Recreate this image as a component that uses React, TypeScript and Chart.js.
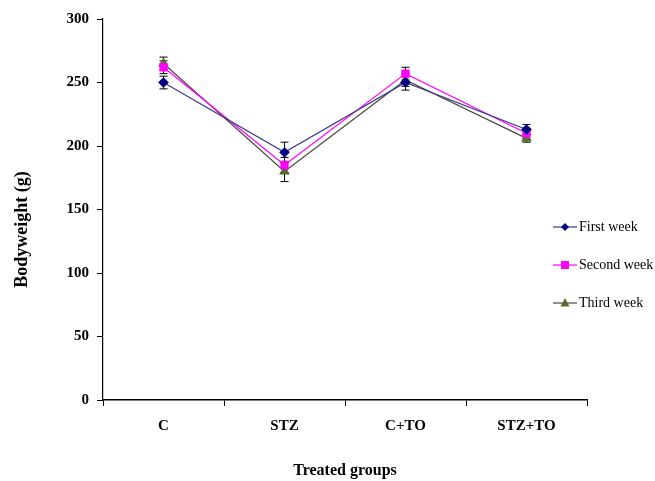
import React, { useEffect, useRef } from "react";
import { Chart, registerables } from "chart.js";

Chart.register(...registerables);

const categories = ["C", "STZ", "C+TO", "STZ+TO"];
const firstWeek = [250, 195, 250, 213];
const secondWeek = [262, 185, 257, 210];
const thirdWeek = [265, 180, 252, 206];
const firstErr = [5, 8, 6, 4];
const secondErr = [5, 6, 5, 4];
const thirdErr = [5, 8, 5, 3];
const yTicks = [0, 50, 100, 150, 200, 250, 300];
const yTitle = "Bodyweight (g)";
const xTitle = "Treated groups";

const FONT = "'Liberation Serif', 'Times New Roman', serif";

const errorBarPlugin = {
  id: "errorBars",
  beforeDatasetsDraw(chart: any) {
    const ctx = chart.ctx;
    const y = chart.scales.y;
    ctx.save();
    ctx.strokeStyle = "#000";
    ctx.lineWidth = 1;
    chart.data.datasets.forEach((ds: any, i: number) => {
      const meta = chart.getDatasetMeta(i);
      meta.data.forEach((pt: any, j: number) => {
        const e = ds.errors[j];
        const v = ds.data[j];
        const top = y.getPixelForValue(v + e);
        const bot = y.getPixelForValue(v - e);
        const x = pt.x;
        ctx.beginPath();
        ctx.moveTo(x, top);
        ctx.lineTo(x, bot);
        ctx.moveTo(x - 4, top);
        ctx.lineTo(x + 4, top);
        ctx.moveTo(x - 4, bot);
        ctx.lineTo(x + 4, bot);
        ctx.stroke();
      });
    });
    ctx.restore();
  },
};

const yTitlePlugin = {
  id: "yTitle",
  afterDraw(chart: any) {
    const ctx = chart.ctx;
    const area = chart.chartArea;
    ctx.save();
    ctx.translate(22, (area.top + area.bottom) / 2 + 20);
    ctx.rotate(-Math.PI / 2);
    ctx.fillStyle = "#000";
    ctx.font = `bold 18px ${FONT}`;
    ctx.textAlign = "center";
    ctx.textBaseline = "middle";
    ctx.fillText(yTitle, 0, 0);
    ctx.restore();
  },
};

const legendPlugin = {
  id: "customLegend",
  afterDraw(chart: any) {
    const ctx = chart.ctx;
    const area = chart.chartArea;
    ctx.save();
    const x0 = area.right - 34;
    const ys = [227, 265, 303];
    chart.data.datasets.forEach((ds: any, i: number) => {
      const yy = ys[i];
      ctx.strokeStyle = ds.borderColor;
      ctx.lineWidth = 1.2;
      ctx.beginPath();
      ctx.moveTo(x0, yy);
      ctx.lineTo(x0 + 24, yy);
      ctx.stroke();
      const cx = x0 + 12;
      ctx.fillStyle = ds.pointBackgroundColor;
      ctx.beginPath();
      if (ds.pointStyle === "rectRot") {
        ctx.moveTo(cx, yy - 4);
        ctx.lineTo(cx + 4, yy);
        ctx.lineTo(cx, yy + 4);
        ctx.lineTo(cx - 4, yy);
      } else if (ds.pointStyle === "rect") {
        ctx.rect(cx - 4, yy - 4, 8, 8);
      } else {
        ctx.moveTo(cx, yy - 5);
        ctx.lineTo(cx + 4.5, yy + 3.5);
        ctx.lineTo(cx - 4.5, yy + 3.5);
      }
      ctx.closePath();
      ctx.fill();
      ctx.fillStyle = "#000";
      ctx.font = `14px ${FONT}`;
      ctx.textBaseline = "middle";
      ctx.textAlign = "left";
      ctx.fillText(ds.label, x0 + 26, yy);
    });
    ctx.restore();
  },
};

export default function App() {
  const ref = useRef<HTMLCanvasElement>(null);
  useEffect(() => {
    document.body.style.margin = "0";
    const chart = new Chart(ref.current!, {
      type: "line",
      data: {
        labels: categories,
        datasets: [
          {
            label: "First week",
            data: firstWeek,
            errors: firstErr,
            borderColor: "#3a3a8c",
            backgroundColor: "#000080",
            pointBackgroundColor: "#000080",
            pointBorderColor: "#000080",
            pointStyle: "rectRot",
            pointRadius: 4.5,
            borderWidth: 1.2,
          } as any,
          {
            label: "Second week",
            data: secondWeek,
            errors: secondErr,
            borderColor: "#ff00ff",
            backgroundColor: "#ff00ff",
            pointBackgroundColor: "#ff00ff",
            pointBorderColor: "#ff00ff",
            pointStyle: "rect",
            pointRadius: 5,
            borderWidth: 1.2,
          } as any,
          {
            label: "Third week",
            data: thirdWeek,
            errors: thirdErr,
            borderColor: "#4a4a40",
            backgroundColor: "#556b2f",
            pointBackgroundColor: "#556b2f",
            pointBorderColor: "#556b2f",
            pointStyle: "triangle",
            pointRadius: 5,
            borderWidth: 1.2,
          } as any,
        ],
      },
      options: {
        animation: false,
        responsive: false,
        layout: { padding: { top: 19, right: 68, left: 0, bottom: 0 } },
        plugins: { legend: { display: false }, tooltip: { enabled: false } },
        scales: {
          x: {
            offset: true,
            grid: { offset: true, drawOnChartArea: false, color: "#000", tickLength: 6, tickWidth: 1 },
            border: { color: "#000", width: 1.5 },
            ticks: { color: "#000", font: { family: FONT, size: 15, weight: "bold" }, padding: 11 },
            title: {
              display: true,
              text: xTitle,
              color: "#000",
              font: { family: FONT, size: 16, weight: "bold" },
              padding: { top: 0, bottom: 1 },
            },
            afterFit(scale: any) {
              scale.height = 81;
            },
          },
          y: {
            min: 0,
            max: 300,
            afterBuildTicks(scale: any) {
              scale.ticks = yTicks.map((v) => ({ value: v }));
            },
            grid: { drawOnChartArea: false, color: "#000", tickLength: 6 },
            border: { color: "#000", width: 1.2 },
            ticks: { color: "#000", font: { family: FONT, size: 15, weight: "bold" }, padding: 8 },
            afterFit(scale: any) {
              scale.width = 103;
            },
          },
        },
      } as any,
      plugins: [errorBarPlugin, legendPlugin, yTitlePlugin],
    });
    return () => chart.destroy();
  }, []);
  return (
    <div style={{ position: "absolute", left: 0, top: 0, width: 655, height: 481 }}>
      <canvas ref={ref} width={655} height={481} style={{ width: 655, height: 481 }} />
    </div>
  );
}
